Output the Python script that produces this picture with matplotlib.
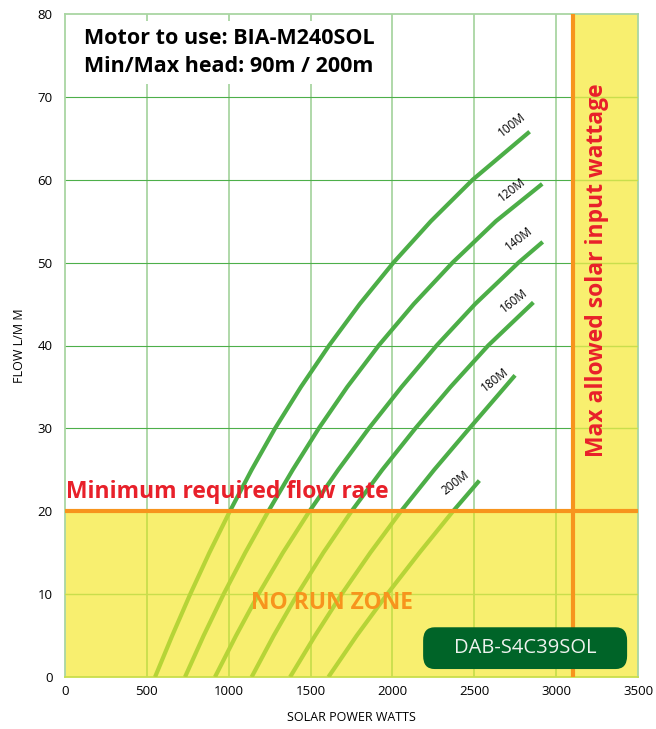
import matplotlib
matplotlib.use("Agg")
import matplotlib.pyplot as plt
import numpy as np
from matplotlib.patches import Rectangle, FancyBboxPatch

plt.rcParams['font.family'] = ['Open Sans', 'DejaVu Sans']

# head curves: (watts, flow)
heads = ['100M', '120M', '140M', '160M', '180M', '200M']
watts = [
    [550, 655, 765, 882, 1007, 1140, 1283, 1441, 1613, 1800, 2006, 2235, 2490, 2838],
    [733, 847, 969, 1101, 1242, 1391, 1550, 1724, 1916, 2130, 2367, 2632, 2915],
    [916, 1045, 1182, 1331, 1493, 1669, 1856, 2056, 2270, 2505, 2770, 2918],
    [1140, 1275, 1420, 1578, 1750, 1938, 2140, 2355, 2585, 2861],
    [1375, 1528, 1690, 1865, 2052, 2255, 2470, 2749],
    [1609, 1782, 1968, 2165, 2370, 2531],
]
flows = [
    [0, 5, 10, 15, 20, 25, 30, 35, 40, 45, 50, 55, 60, 65.8],
    [0, 5, 10, 15, 20, 25, 30, 35, 40, 45, 50, 55, 59.5],
    [0, 5, 10, 15, 20, 25, 30, 35, 40, 45, 50, 52.5],
    [0, 5, 10, 15, 20, 25, 30, 35, 40, 45.2],
    [0, 5, 10, 15, 20, 25, 30, 36.4],
    [0, 5, 10, 15, 20, 23.7],
]
# where the head labels sit
label_x = [2729, 2729, 2775, 2739, 2627, 2382]
label_y = [66.6, 58.8, 52.9, 45.4, 35.9, 23.4]

min_flow = 20
max_watts = 3100
xticks = np.arange(0, 3501, 500)
yticks = np.arange(0, 81, 10)

yellow = '#F8EF6F'
grid_light = '#A9D6A2'
grid_dark = '#4DAF4A'
grid_yel = '#C9DE4C'
curve_dark = '#4CAE47'
curve_light = '#B6D437'
orange = '#F7941D'
red = '#E8202A'

fig = plt.figure(figsize=(6.56, 7.29), dpi=100)
ax = fig.add_axes([65/656, 52/729, 573/656, 663/729])
ax.set_xlim(0, 3500)
ax.set_ylim(0, 80)

# grid in white area
for x in xticks[1:-1]:
    ax.plot([x, x], [min_flow, 80], color=grid_light, lw=1.3, zorder=1)
for y in yticks[3:-1]:
    ax.plot([0, max_watts], [y, y], color=grid_dark, lw=0.8, zorder=1)

# yellow zones
ax.add_patch(Rectangle((0, 0), 3500, min_flow, fc=yellow, ec='none', zorder=2))
ax.add_patch(Rectangle((max_watts, 0), 3500 - max_watts, 80, fc=yellow, ec='none', zorder=2))
for x in xticks[1:-1]:
    ax.plot([x, x], [0, min_flow], color=grid_yel, lw=1.3, zorder=3)
ax.plot([0, 3500], [10, 10], color=grid_yel, lw=1.0, zorder=3)
for y in yticks[3:-1]:
    ax.plot([max_watts, 3500], [y, y], color=grid_yel, lw=1.0, zorder=3)

# curves: dark above min flow, light inside no-run zone
clip_hi = Rectangle((0, min_flow), 3500, 80, transform=ax.transData)
clip_lo = Rectangle((0, 0), 3500, min_flow, transform=ax.transData)
for i, h in enumerate(heads):
    l1, = ax.plot(watts[i], flows[i], color=curve_dark, lw=3.0, zorder=4,
                  solid_capstyle='butt', solid_joinstyle='round')
    l1.set_clip_path(clip_hi)
    l2, = ax.plot(watts[i], flows[i], color=curve_light, lw=3.0, zorder=4,
                  solid_capstyle='butt', solid_joinstyle='round')
    l2.set_clip_path(clip_lo)
    ax.text(label_x[i], label_y[i], h, rotation=38, fontsize=8.5,
            ha='center', va='center', zorder=6)

ax.axhline(min_flow, color=orange, lw=3, zorder=5)
ax.axvline(max_watts, color=orange, lw=3, zorder=5)

ax.text(0.286, 0.942, 'Motor to use: BIA-M240SOL\nMin/Max head: 90m / 200m',
        transform=ax.transAxes, ha='center', va='center', fontsize=15.5,
        fontweight='bold', linespacing=1.4, zorder=7,
        bbox=dict(fc='white', ec='none', pad=5))
ax.text(5, 22.3, 'Minimum required flow rate', color=red, fontsize=16.5,
        fontweight='bold', ha='left', va='center', zorder=7)
ax.text(1631, 8.9, 'NO RUN ZONE', color=orange, fontsize=16.5,
        fontweight='bold', ha='center', va='center', zorder=7)
ax.text(3250, 49.1, 'Max allowed solar input wattage', color=red, fontsize=16.5,
        fontweight='bold', rotation=90, ha='center', va='center', zorder=7)

box = FancyBboxPatch((0.625, 0.012), 0.356, 0.063, transform=ax.transAxes,
                     boxstyle='round,pad=0,rounding_size=0.02',
                     fc='#006428', ec='none', zorder=7)
ax.add_patch(box)
ax.text(0.803, 0.0435, 'DAB-S4C39SOL', transform=ax.transAxes, color='#EEF2EE',
        fontsize=14.5, ha='center', va='center', zorder=8)

ax.set_xticks(xticks)
ax.set_yticks(yticks)
ax.tick_params(length=0, labelsize=9.5)
ax.tick_params(axis='y', pad=9)
ax.tick_params(axis='x', pad=6)
for s in ax.spines.values():
    s.set_color(grid_light)
    s.set_linewidth(1.3)
ax.spines['bottom'].set_color(grid_yel)

ax.set_xlabel('SOLAR POWER WATTS', fontsize=9, labelpad=9)
ax.set_ylabel('FLOW L/M M', fontsize=9, labelpad=8)

plt.savefig('out.png', dpi=100)
